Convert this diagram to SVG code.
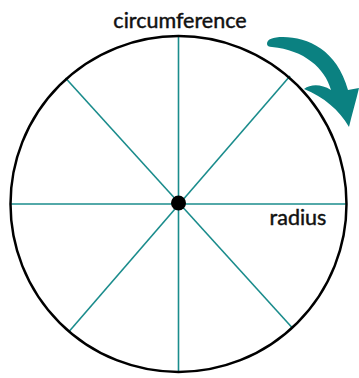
<svg xmlns="http://www.w3.org/2000/svg" width="359" height="378" viewBox="0 0 359 378">
<style>
.spoke{stroke:#1a8c8c;stroke-width:1.6;fill:none}
.rim{stroke:#000;stroke-width:2.5;fill:none}
.lbl{font-family:Lato,"Open Sans","Liberation Sans",sans-serif;font-size:21.5px;fill:#111;stroke:#111;stroke-width:0.45}
</style>
<rect width="359" height="378" fill="#fff"/>
<g id="connectors">
<line class="spoke" x1="178.5" y1="36" x2="178.5" y2="372"/>
<line class="spoke" x1="10.5" y1="204" x2="346.5" y2="204"/>
<line class="spoke" x1="65.5" y1="78" x2="292" y2="327.5"/>
<line class="spoke" x1="69.5" y1="331" x2="290" y2="76"/>
</g>
<g id="circle">
<circle class="rim" cx="178.5" cy="204" r="168"/>
</g>
<g id="center">
<circle cx="178.5" cy="203" r="7.5" fill="#000"/>
</g>
<g id="arrow">
<path d="M267,44 C267,39 273,37 283,37 C308,37 337,50 348,90 L359,88 C356,101 352,114 349,127 C339,110 324,97 304,89 C311,84 321,84 331,90 C325,68 304,50 272,47 C269,47 267,46 267,44 Z" fill="#0b8181"/>
</g>
<g id="label-circumference">
<text class="lbl" x="180" y="28" text-anchor="middle">circumference</text>
</g>
<g id="label-radius">
<text class="lbl" x="298" y="225" text-anchor="middle">radius</text>
</g>
</svg>
